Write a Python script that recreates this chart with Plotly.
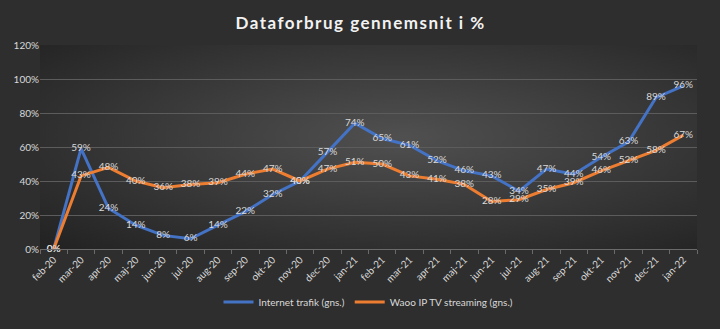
import plotly.graph_objects as go
import base64

months = ["feb-20","mar-20","apr-20","maj-20","jun-20","jul-20","aug-20","sep-20","okt-20","nov-20","dec-20","jan-21",
          "feb-21","mar-21","apr-21","maj-21","jun-21","jul-21","aug-21","sep-21","okt-21","nov-21","dec-21","jan-22"]
internet = [0, 59, 24, 14, 8, 6, 14, 22, 32, 40, 57, 74, 65, 61, 52, 46, 43, 34, 47, 44, 54, 63, 89, 96]
waoo = [0, 43, 48, 40, 36, 38, 39, 44, 47, 40, 47, 51, 50, 43, 41, 38, 28, 29, 35, 39, 46, 52, 58, 67]

svg = ('<svg xmlns="http://www.w3.org/2000/svg" width="720" height="329">'
       '<defs><radialGradient id="g" cx="0.55" cy="0.45" r="0.75">'
       '<stop offset="0" stop-color="#505050"/><stop offset="1" stop-color="#232323"/>'
       '</radialGradient></defs><rect width="720" height="329" fill="url(#g)"/></svg>')
bg = "data:image/svg+xml;base64," + base64.b64encode(svg.encode()).decode()

lab_font = dict(family="Lato, sans-serif", size=10, color="#d9d9d9")

fig = go.Figure()
fig.add_trace(go.Scatter(x=months, y=internet, name="Internet trafik (gns.)", mode="lines+text",
                         line=dict(color="#4472C4", width=3),
                         text=[f"{v}%" for v in internet], textposition="middle center",
                         textfont=lab_font, cliponaxis=False))
fig.add_trace(go.Scatter(x=months, y=waoo, name="Waoo IP TV streaming (gns.)", mode="lines+text",
                         line=dict(color="#ED7D31", width=3),
                         text=[f"{v}%" for v in waoo], textposition="middle center",
                         textfont=lab_font, cliponaxis=False))

fig.update_layout(
    width=720, height=329,
    margin=dict(l=40, r=23, t=45, b=71),
    paper_bgcolor="#2e2e2e", plot_bgcolor="rgba(0,0,0,0)",
    images=[dict(source=bg, xref="paper", yref="paper", x=0, y=1, sizex=1, sizey=1,
                 xanchor="left", yanchor="top", layer="below", sizing="stretch")],
    title=dict(text="<span style='letter-spacing:1.5px'><b>Dataforbrug gennemsnit i %</b></span>",
               x=0.488, xanchor="center", y=0.93, yanchor="middle", xref="paper",
               font=dict(family="Lato, sans-serif", size=17, color="#f2f2f2")),
    showlegend=True,
    legend=dict(orientation="h", x=0.5, xanchor="center", y=-0.26, yanchor="middle",
                font=dict(family="Lato, sans-serif", size=10, color="#d9d9d9"),
                bgcolor="rgba(0,0,0,0)", itemwidth=30),
    font=dict(family="Lato, sans-serif", color="#d9d9d9"),
)
fig.update_xaxes(type="category", range=[-0.5, 23.5], tickangle=-45,
                 tickfont=dict(size=10, color="#d9d9d9"), showgrid=False,
                 showline=True, linecolor="#6a6a6a", linewidth=1,
                 ticks="outside", ticklen=4, tickcolor="#6a6a6a", tickson="boundaries", zeroline=False)
fig.update_yaxes(range=[0, 120], dtick=20, tickformat=".0f", ticksuffix="%",
                 tickfont=dict(size=10, color="#d9d9d9"),
                 showgrid=True, gridcolor="#5c5c5c", gridwidth=1, zeroline=False, showline=False)

fig.write_html("out.html")
